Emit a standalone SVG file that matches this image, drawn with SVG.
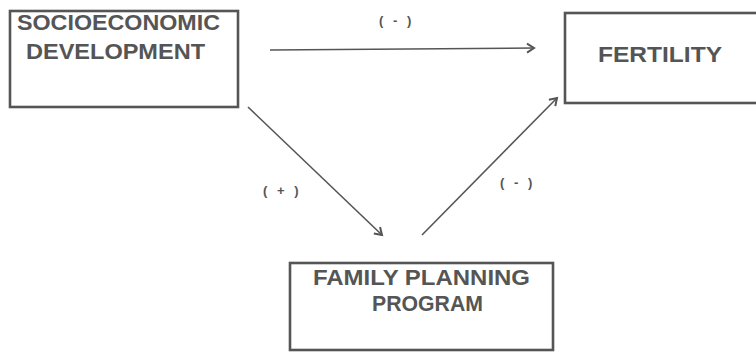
<svg xmlns="http://www.w3.org/2000/svg" width="756" height="353" viewBox="0 0 756 353">
<style>
.box{fill:#fff;stroke:#555;stroke-width:2.6}
.t{font-family:"Liberation Sans",Arial,sans-serif;font-weight:bold;font-size:22px;fill:#555}
.l{font-family:"Liberation Sans",Arial,sans-serif;font-weight:bold;font-size:13px;fill:#555;letter-spacing:3px}
.c{fill:none;stroke:#555;stroke-width:1.6}
</style>
<defs>
<marker id="ah" markerWidth="12" markerHeight="12" refX="9" refY="6" orient="auto" markerUnits="userSpaceOnUse">
<path d="M2,1.5 L9,6 L2,10.5" fill="none" stroke="#555" stroke-width="2"/>
</marker>
</defs>
<rect width="756" height="353" fill="#fff"/>
<g id="socioeconomic">
<rect class="box" x="10" y="11" width="228" height="96"/>
<text class="t" x="17" y="30" textLength="203" lengthAdjust="spacingAndGlyphs">SOCIOECONOMIC</text>
<text class="t" x="26" y="59" textLength="179" lengthAdjust="spacingAndGlyphs">DEVELOPMENT</text>
</g>
<g id="fertility">
<rect class="box" x="565" y="13" width="195" height="90"/>
<text class="t" x="598" y="62" textLength="124" lengthAdjust="spacingAndGlyphs">FERTILITY</text>
</g>
<g id="family-planning">
<rect class="box" x="290" y="263" width="263" height="87"/>
<text class="t" x="313" y="285" textLength="217" lengthAdjust="spacingAndGlyphs">FAMILY PLANNING</text>
<text class="t" x="372" y="311" textLength="111" lengthAdjust="spacingAndGlyphs">PROGRAM</text>
</g>
<g id="connectors">
<line class="c" x1="270" y1="50" x2="534" y2="48" marker-end="url(#ah)"/>
<line class="c" x1="248" y1="107" x2="382" y2="235" marker-end="url(#ah)"/>
<line class="c" x1="422" y1="235" x2="557" y2="98" marker-end="url(#ah)"/>
<text class="l" x="379" y="25">( - )</text>
<text class="l" x="263" y="195">( + )</text>
<text class="l" x="500" y="187">( - )</text>
</g>
</svg>
